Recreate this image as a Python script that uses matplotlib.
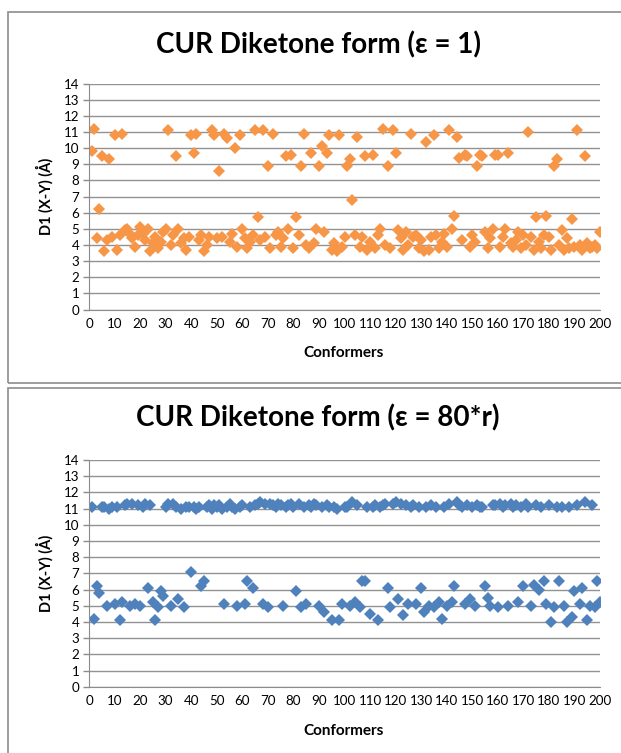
import matplotlib.pyplot as plt
from matplotlib.patches import Rectangle

conformers = list(range(1, 201))

# D1 distances, eps = 1 (orange)
d1_eps1 = [
    9.8, 11.2, 4.4, 6.2, 9.5, 3.6, 4.3, 9.3, 4.5, 10.8,
    3.7, 4.6, 10.9, 4.9, 5.0, 4.7, 4.4, 3.9, 4.6, 5.1,
    4.7, 4.3, 5.0, 3.6, 4.1, 4.5, 3.8, 4.2, 4.8, 5.0,
    11.1, 4.0, 4.6, 9.5, 5.0, 4.1, 4.4, 3.7, 4.5, 10.8,
    9.7, 10.9, 4.3, 4.6, 3.6, 4.0, 4.5, 11.1, 10.8, 4.4,
    8.6, 4.5, 10.9, 10.6, 4.2, 4.7, 10.0, 3.9, 10.8, 5.0,
    4.4, 3.8, 4.2, 4.6, 11.1, 5.7, 4.3, 11.1, 4.5, 8.9,
    3.8, 10.9, 4.6, 4.8, 3.9, 4.4, 9.5, 5.0, 9.6, 3.8,
    5.7, 4.6, 8.9, 10.9, 4.0, 3.8, 9.7, 4.1, 5.0, 8.9,
    10.1, 4.8, 9.7, 10.8, 3.7, 4.1, 3.6, 10.8, 3.9, 4.5,
    8.9, 9.3, 6.8, 4.6, 10.7, 3.9, 4.5, 9.5, 3.7, 4.2,
    9.6, 3.8, 4.6, 5.0, 11.2, 4.0, 8.9, 3.8, 11.1, 9.7,
    4.9, 4.4, 3.7, 4.8, 4.0, 10.9, 4.5, 4.6, 3.8, 4.3,
    3.6, 10.4, 3.7, 4.5, 10.8, 4.6, 3.8, 4.2, 4.7, 3.9,
    11.1, 5.0, 5.8, 10.7, 9.4, 4.3, 9.6, 9.5, 3.9, 4.6,
    4.2, 8.9, 9.6, 9.5, 4.8, 3.8, 4.4, 5.0, 9.6, 9.6,
    3.9, 4.5, 5.0, 9.7, 4.1, 3.9, 4.3, 4.8, 3.8, 4.6,
    4.0, 11.0, 4.5, 3.7, 5.7, 4.2, 3.8, 4.6, 5.8, 4.5,
    3.7, 8.9, 9.3, 4.0, 4.9, 3.7, 4.4, 3.8, 5.6, 3.9,
    11.1, 4.0, 3.7, 9.5, 4.1, 3.8, 3.9, 4.0, 3.8, 4.8,
]

# D1 distances, eps = 80*r (blue)
d1_eps80r = [
    11.1, 4.2, 6.2, 5.8, 11.1, 11.1, 5.0, 11.0, 11.1, 5.1,
    11.1, 4.1, 5.2, 11.2, 11.3, 5.0, 11.3, 5.1, 11.2, 5.0,
    11.1, 11.3, 6.1, 11.2, 5.2, 4.1, 4.9, 5.9, 5.6, 11.1,
    11.3, 5.0, 11.3, 11.1, 5.4, 11.0, 4.9, 11.1, 11.1, 7.1,
    11.1, 11.0, 11.1, 6.2, 6.5, 11.1, 11.2, 11.0, 11.2, 11.1,
    11.2, 11.0, 5.1, 11.1, 11.3, 11.1, 11.0, 5.0, 11.1, 11.2,
    5.1, 6.5, 11.1, 6.1, 11.2, 11.3, 11.4, 5.1, 11.3, 4.9,
    11.3, 11.2, 11.1, 11.3, 11.2, 5.0, 11.1, 11.2, 11.3, 11.1,
    5.9, 11.3, 4.9, 11.1, 5.1, 11.2, 11.1, 11.3, 11.2, 5.0,
    11.1, 4.6, 11.2, 11.1, 4.1, 11.1, 11.0, 4.1, 5.1, 11.1,
    11.1, 5.0, 11.4, 5.2, 11.2, 4.9, 6.5, 6.5, 11.1, 4.5,
    11.1, 11.2, 4.1, 11.1, 11.2, 11.3, 6.1, 4.9, 11.3, 11.4,
    5.4, 11.3, 4.4, 11.2, 5.1, 11.1, 11.2, 5.1, 11.1, 6.1,
    4.6, 11.1, 5.0, 11.2, 4.9, 11.1, 5.2, 4.2, 11.1, 5.0,
    11.3, 5.2, 6.2, 11.4, 11.2, 11.1, 5.1, 11.2, 5.4, 11.1,
    5.0, 11.2, 11.1, 11.1, 6.2, 5.5, 5.0, 11.2, 11.2, 4.9,
    11.3, 11.1, 11.2, 5.0, 11.3, 11.1, 11.2, 5.2, 11.1, 6.2,
    11.3, 11.1, 5.0, 6.3, 11.2, 6.0, 11.1, 6.5, 5.1, 11.2,
    4.0, 4.9, 11.1, 6.5, 11.1, 5.0, 4.0, 11.1, 4.3, 5.9,
    11.2, 5.1, 6.1, 11.4, 4.1, 5.0, 11.2, 4.9, 6.5, 5.2,
]

titles = ["CUR Diketone form (\u03b5 = 1)", "CUR Diketone form (\u03b5 = 80*r)"]
colors = ["#F79646", "#4F81BD"]
series = [d1_eps1, d1_eps80r]

W, H = 621, 753
fig = plt.figure(figsize=(W / 100, H / 100), dpi=100)
fam = ["Lato", "DejaVu Sans"]

# panel frames (px: x0, y_top, width, height)
frames = [(8, 12, 620, 371), (8, 388, 620, 372)]
# plot areas (px: left, y of 0, right, y of 14)
areas = [(89, 309.5, 600, 83.5), (89, 686.7, 600, 460)]
title_y = [45, 418]
xlabel_y = [353, 731]

for i in range(2):
    fx, fy, fw, fh = frames[i]
    fig.patches.append(Rectangle((fx / W, 1 - (fy + fh) / H), fw / W, fh / H,
                                 transform=fig.transFigure, fill=False,
                                 edgecolor="#8c8c8c", lw=1.2))
    l, b, r, t = areas[i]
    ax = fig.add_axes([l / W, 1 - b / H, (r - l) / W, (b - t) / H])
    ax.plot(conformers, series[i], ls="none", marker="D", ms=6.4,
            color=colors[i], markeredgewidth=0)
    ax.set_xlim(0, 200)
    ax.set_ylim(0, 14)
    ax.set_xticks(range(0, 201, 10))
    ax.set_yticks(range(0, 15))
    ax.grid(axis="y", color="#929292", lw=1.0)
    ax.set_axisbelow(True)
    for s in ["top", "right"]:
        ax.spines[s].set_visible(False)
    ax.spines["left"].set_color("#8c8c8c")
    ax.spines["bottom"].set_color("#8c8c8c")
    ax.tick_params(axis="both", colors="#8c8c8c", labelcolor="black",
                   length=4, width=1, labelsize=9.6, pad=3)
    ax.tick_params(axis="x", length=0, pad=6)
    for lab in ax.get_xticklabels() + ax.get_yticklabels():
        lab.set_family(fam)
    ax.set_ylabel("D1 (X-Y) (\u00c5)", fontsize=10.5, fontweight="bold",
                  family=fam, labelpad=7)
    fig.text(344 / W, 1 - xlabel_y[i] / H, "Conformers", ha="center",
             va="center", fontsize=11, fontweight="bold", family=fam)
    fig.text(318 / W, 1 - title_y[i] / H, titles[i], ha="center", va="center",
             fontsize=20, fontweight="bold", family=fam)

fig.savefig("out.png", dpi=100)
